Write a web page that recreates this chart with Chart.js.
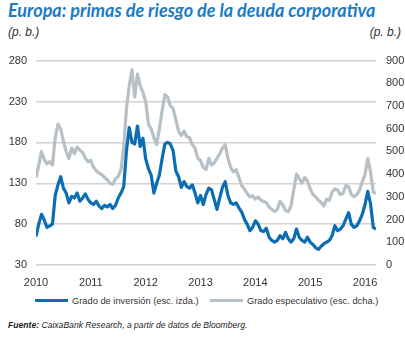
<!DOCTYPE html>
<html>
<head>
<meta charset="utf-8">
<script src="https://cdn.jsdelivr.net/npm/chart.js@4"></script>
<style>
  body { margin: 0; width: 405px; height: 338px; background: #fff; position: relative; overflow: hidden; font-family: 'Liberation Sans', Arial, sans-serif; color: #333; }
  .title { position: absolute; left: 8px; top: -1px; font-family: Lato, sans-serif; font-weight: bold; font-style: italic; font-size: 18px; color: #1b7bc4; white-space: nowrap; }
  .unit { position: absolute; top: 25px; font-style: italic; font-size: 12px; color: #333; }
  .legend { position: absolute; top: 296px; font-size: 9.3px; color: #333; white-space: nowrap; }
  .legend span.line { display: inline-block; width: 33px; height: 3px; vertical-align: middle; margin-right: 4px; position: relative; top: -1px; }
  .source { position: absolute; left: 8px; top: 320px; font-style: italic; font-size: 8.6px; color: #222; white-space: nowrap; }
  #wrap { position: absolute; left: 0; top: 44px; }
</style>
</head>
<body>
<div class="title">Europa: primas de riesgo de la deuda corporativa</div>
<div class="unit" style="left:8px">(p. b.)</div>
<div class="unit" style="right:4px">(p. b.)</div>
<div id="wrap"><canvas id="chart" width="405" height="248"></canvas></div>
<div class="legend" style="left:35px"><span class="line" style="background:#0b6db3"></span>Grado de inversión (esc. izda.)</div>
<div class="legend" style="left:210px"><span class="line" style="background:#b7c0c6"></span>Grado especulativo (esc. dcha.)</div>
<div class="source"><b>Fuente:</b> CaixaBank Research, a partir de datos de Bloomberg.</div>
<script>
const dates = [
  2010.00, 2010.05, 2010.10, 2010.15, 2010.20, 2010.25, 2010.30, 2010.35, 2010.40, 2010.45,
  2010.50, 2010.55, 2010.60, 2010.65, 2010.70, 2010.75, 2010.80, 2010.85, 2010.90, 2010.95,
  2011.00, 2011.05, 2011.10, 2011.15, 2011.20, 2011.25, 2011.30, 2011.35, 2011.40, 2011.45,
  2011.50, 2011.55, 2011.60, 2011.65, 2011.70, 2011.75, 2011.80, 2011.85, 2011.90, 2011.95,
  2012.00, 2012.05, 2012.10, 2012.15, 2012.20, 2012.25, 2012.30, 2012.35, 2012.40, 2012.45,
  2012.50, 2012.55, 2012.60, 2012.65, 2012.70, 2012.75, 2012.80, 2012.85, 2012.90, 2012.95,
  2013.00, 2013.05, 2013.10, 2013.15, 2013.20, 2013.25, 2013.30, 2013.35, 2013.40, 2013.45,
  2013.50, 2013.55, 2013.60, 2013.65, 2013.70, 2013.75, 2013.80, 2013.85, 2013.90, 2013.95,
  2014.00, 2014.05, 2014.10, 2014.15, 2014.20, 2014.25, 2014.30, 2014.35, 2014.40, 2014.45,
  2014.50, 2014.55, 2014.60, 2014.65, 2014.70, 2014.75, 2014.80, 2014.85, 2014.90, 2014.95,
  2015.00, 2015.05, 2015.10, 2015.15, 2015.20, 2015.25, 2015.30, 2015.35, 2015.40, 2015.45,
  2015.50, 2015.55, 2015.60, 2015.65, 2015.70, 2015.75, 2015.80, 2015.85, 2015.90, 2015.95,
  2016.00, 2016.05, 2016.10, 2016.15, 2016.20
];

// Grado de inversión (p. b., escala izquierda)
const investmentGrade = [
  65, 80, 92, 85, 76, 78, 80, 115, 128, 138,
  124, 118, 106, 114, 112, 118, 108, 112, 117, 110,
  106, 104, 108, 102, 99, 103, 101, 104, 99, 103,
  112, 118, 126, 170, 198, 180, 178, 200, 175, 185,
  160, 148, 140, 118, 130, 140, 160, 178, 180, 178,
  170, 145, 138, 125, 132, 126, 124, 128, 118, 106,
  115, 104, 116, 124, 122, 110, 98, 112, 125, 132,
  115, 106, 104, 106, 100, 95, 86, 80, 72, 76,
  84, 80, 72, 71, 75, 64, 60, 58, 60, 66,
  62, 70, 62, 58, 62, 74, 64, 60, 58, 64,
  58, 55, 51, 49, 53, 56, 58, 60, 66, 78,
  72, 74, 78, 86, 94, 80, 76, 78, 84, 92,
  104, 120, 105, 76, 74
];

// Grado especulativo (p. b., escala derecha)
const highYield = [
  385, 440, 500, 465, 445, 455, 440, 560, 620, 600,
  545, 500, 468, 515, 490, 520, 505, 495, 470, 455,
  460, 430, 415, 405, 398, 385, 375, 360, 355, 380,
  390, 420, 520, 690, 790, 860, 740, 840, 790, 760,
  720, 620, 600, 560, 530, 600, 680, 750, 740, 700,
  690, 640, 590, 570, 590, 565, 560, 530, 515, 470,
  460, 430, 420, 470, 440, 450, 470, 490, 515, 530,
  470, 430, 410, 420, 385, 350, 335, 315, 300, 305,
  290, 300, 285, 280, 275, 255, 245, 235, 245, 280,
  265, 240, 235, 260, 330, 400, 380, 360, 385, 370,
  335, 310, 300, 285, 275, 260, 290, 285, 320, 335,
  330, 310, 315, 350, 345, 310, 300, 310, 330, 365,
  400, 470, 410, 320, 315
];

const yearTicks = [2010, 2011, 2012, 2013, 2014, 2015, 2016];
const leftTicks = [30, 80, 130, 180, 230, 280];
const rightTicks = [0, 100, 200, 300, 400, 500, 600, 700, 800, 900];

const tickFont = { family: "'Liberation Sans', Arial, sans-serif", size: 11 };

new Chart(document.getElementById('chart').getContext('2d'), {
  type: 'line',
  data: {
    datasets: [
      {
        label: 'Grado de inversión (esc. izda.)',
        data: dates.map((d, i) => ({ x: d, y: investmentGrade[i] })),
        borderColor: '#0b6db3',
        borderWidth: 3.2,
        pointRadius: 0,
        tension: 0,
        borderJoinStyle: 'round',
        yAxisID: 'yLeft'
      },
      {
        label: 'Grado especulativo (esc. dcha.)',
        data: dates.map((d, i) => ({ x: d, y: highYield[i] })),
        borderColor: '#b7c0c6',
        borderWidth: 3.2,
        pointRadius: 0,
        tension: 0,
        borderJoinStyle: 'round',
        yAxisID: 'yRight'
      }
    ]
  },
  options: {
    responsive: false,
    animation: false,
    devicePixelRatio: 1,
    layout: { padding: { top: 9, left: 0, right: 0, bottom: 0 } },
    plugins: { legend: { display: false }, tooltip: { enabled: false } },
    scales: {
      x: {
        type: 'linear',
        min: 2010,
        max: 2016.2,
        afterBuildTicks: axis => { axis.ticks = yearTicks.map(v => ({ value: v })); },
        afterFit: axis => { axis.height = 27; },
        grid: { display: false },
        border: { display: false },
        ticks: { color: '#333', font: tickFont, padding: 3, maxRotation: 0, callback: v => String(v) }
      },
      yLeft: {
        position: 'left',
        min: 30,
        max: 280,
        afterBuildTicks: axis => { axis.ticks = leftTicks.map(v => ({ value: v })); },
        afterFit: axis => { axis.width = 36; },
        grid: { color: '#d2d2d2', lineWidth: 1.4, drawTicks: false },
        border: { display: false },
        ticks: { color: '#333', font: tickFont, padding: 9 }
      },
      yRight: {
        position: 'right',
        min: 0,
        max: 900,
        afterBuildTicks: axis => { axis.ticks = rightTicks.map(v => ({ value: v })); },
        afterFit: axis => { axis.width = 29; },
        grid: { display: false, drawTicks: false },
        border: { display: false },
        ticks: { color: '#333', font: tickFont, padding: 10 }
      }
    }
  }
});
</script>
</body>
</html>
